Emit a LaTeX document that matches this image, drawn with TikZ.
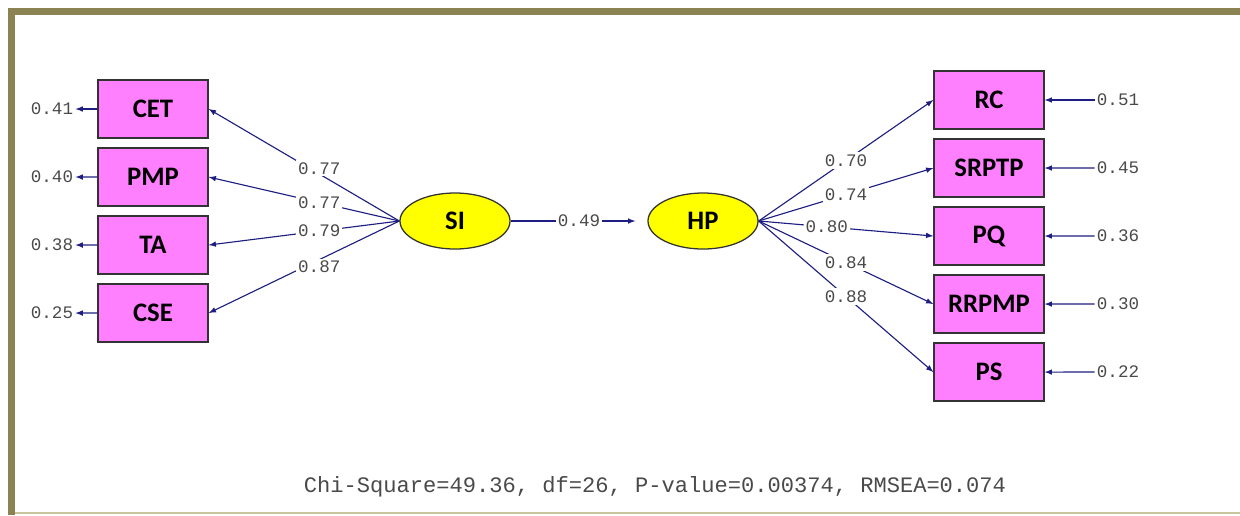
\documentclass[tikz,border=0pt]{standalone}
\usepackage{fontspec}
\usepackage{tikz}
\usepackage{xcolor}
\usetikzlibrary{shapes.geometric}

\newfontfamily\boxfont{Carlito}
\newfontfamily\numfont{Liberation Mono}

\definecolor{boxpink}{HTML}{FF80FF}
\definecolor{latyellow}{HTML}{FFFF00}
\definecolor{pathblue}{HTML}{1E1E82}
\definecolor{frameolive}{HTML}{8C8352}
\definecolor{framelight}{HTML}{C9C59C}
\definecolor{numgray}{HTML}{4A4A4A}

\begin{document}
\begin{tikzpicture}[x=0.025cm, y=-0.025cm, node distance=1.7cm,
	obs/.style={draw=black!80, line width=0.9pt, fill=boxpink, minimum width=2.75cm, minimum height=1.45cm, font=\boxfont\bfseries\fontsize{19}{19}\selectfont},
	lat/.style={draw=black!80, line width=0.9pt, fill=latyellow, ellipse, minimum width=2.75cm, minimum height=1.4cm, font=\boxfont\bfseries\fontsize{19}{19}\selectfont},
	num/.style={text=numgray, font=\numfont\fontsize{12.5}{12.5}\selectfont, inner sep=1.5pt},
	lab/.style={num, fill=white},
	arr/.style={-latex, draw=pathblue, line width=0.8pt}]
		\useasboundingbox (0,0) rectangle (1240,515);
		% frame
		\fill[frameolive] (8,8) rectangle (1240,15);
		\fill[frameolive] (8,8) rectangle (15,515);
		\draw[framelight, line width=1pt] (15,513) -- (1240,513);
		
		\node[obs] (cet) at (153,109) {CET};
		\node[obs, below of=cet] (pmp) {PMP};
		\node[obs, below of=pmp] (ta) {TA};
		\node[obs, below of=ta] (cse) {CSE};
		
		\node[lat] (si) at (455,221) {SI};
		\node[lat] (hp) at (703,221) {HP};
		
		\node[obs] (rc) at (989,100) {RC};
		\node[obs, below of=rc] (srptp) {SRPTP};
		\node[obs, below of=srptp] (pq) {PQ};
		\node[obs, below of=pq] (rrpmp) {RRPMP};
		\node[obs, below of=rrpmp] (ps) {PS};
		
		\node[num] (ecet) at (52,109) {0.41};
		\node[num] (epmp) at (52,177) {0.40};
		\node[num] (eta) at (52,245) {0.38};
		\node[num] (ecse) at (52,313) {0.25};
		
		\node[num] (erc) at (1118,100) {0.51};
		\node[num] (esrptp) at (1118,168) {0.45};
		\node[num] (epq) at (1118,236) {0.36};
		\node[num] (errpmp) at (1118,304) {0.30};
		\node[num] (eps) at (1118,372) {0.22};
		
		\node[num] (chi) at (655,487) {\fontsize{15.7}{15.7}\selectfont Chi-Square=49.36, df=26, P-value=0.00374, RMSEA=0.074};
		
		\draw[arr] (cet.west) -- (ecet);
		\draw[arr] (pmp.west) -- (epmp);
		\draw[arr] (ta.west) -- (eta);
		\draw[arr] (cse.west) -- (ecse);
		
		\draw[arr] (erc) -- (rc.east);
		\draw[arr] (esrptp) -- (srptp.east);
		\draw[arr] (epq) -- (pq.east);
		\draw[arr] (errpmp) -- (rrpmp.east);
		\draw[arr] (eps) -- (ps.east);
		
		\draw[arr] (si.west) -- node[lab, pos=0.42, yshift=4pt] {0.77} (cet.east);
		\draw[arr] (si.west) -- node[lab, pos=0.42] {0.77} (pmp.east);
		\draw[arr] (si.west) -- node[lab, pos=0.42] {0.79} (ta.east);
		\draw[arr] (si.west) -- node[lab, pos=0.42, yshift=-5pt] {0.87} (cse.east);
		
		\draw[arr, shorten >=0.3cm] (si.east) -- node[lab] {0.49} (hp.west);
		
		\draw[arr] (hp.east) -- node[lab, pos=0.5] {0.70} (rc.west);
		\draw[arr] (hp.east) -- node[lab, pos=0.5] {0.74} (srptp.west);
		\draw[arr] (hp.east) -- node[lab, pos=0.39] {0.80} (pq.west);
		\draw[arr] (hp.east) -- node[lab, pos=0.5] {0.84} (rrpmp.west);
		\draw[arr] (hp.east) -- node[lab, pos=0.5] {0.88} (ps.west);
	\end{tikzpicture}
\end{document}
